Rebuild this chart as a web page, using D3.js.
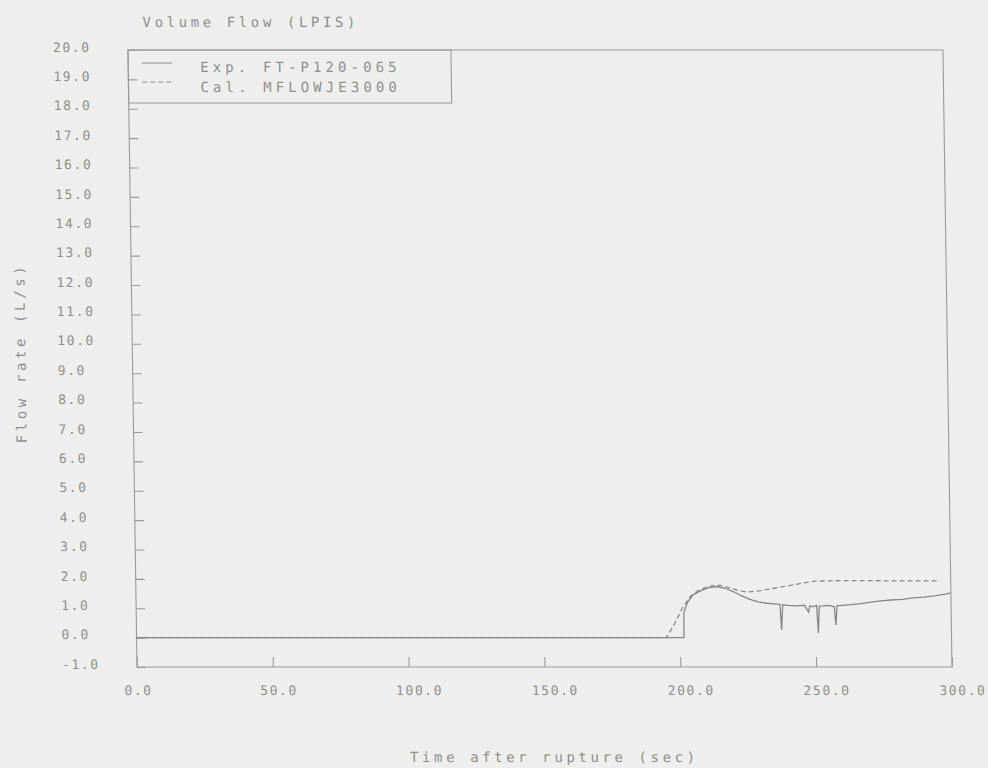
<!DOCTYPE html>
<html>
<head>
<meta charset="utf-8">
<script src="https://cdn.jsdelivr.net/npm/d3@7"></script>
<style>
  html, body { margin: 0; padding: 0; background: #eeeeec; }
  svg { display: block; }
  text { font-family: "DejaVu Sans Mono", monospace; fill: #8e8e8e; }
</style>
</head>
<body>
<svg id="chart" width="988" height="768"></svg>
<script>
// Labels
const chartTitle = "Volume Flow (LPIS)";
const xAxisTitle = "Time after rupture (sec)";
const yAxisTitle = "Flow rate (L/s)";
const seriesNames = ["Exp. FT-P120-065", "Cal. MFLOWJE3000"];

// Tick values
const xTicks = [0, 50, 100, 150, 200, 250, 300];
const yTicks = [-1, 0, 1, 2, 3, 4, 5, 6, 7, 8, 9, 10, 11, 12, 13, 14, 15, 16, 17, 18, 19, 20];

// Measured LPIS volume flow (L/s)
const expTime = [0, 201.5, 201.6, 203, 205, 208, 211, 214, 217, 220, 223, 226, 229, 232, 235,
  237, 237.5, 238, 240, 243, 246, 247.5, 248, 249, 250.5, 251, 251.5, 253, 255, 257, 257.5, 258,
  260, 263, 266, 270, 274, 278, 282, 286, 290, 294, 298, 300];
const expFlow = [0, 0, 0.85, 1.2, 1.45, 1.6, 1.7, 1.74, 1.68, 1.56, 1.42, 1.3, 1.22, 1.17, 1.15,
  1.13, 0.26, 1.12, 1.1, 1.08, 1.1, 0.87, 1.08, 1.05, 1.1, 0.16, 1.07, 1.08, 1.1, 1.05, 0.43, 1.08,
  1.1, 1.12, 1.15, 1.2, 1.25, 1.28, 1.3, 1.35, 1.38, 1.42, 1.48, 1.52];

// Calculated junction flow (L/s)
const calTime = [0, 195, 198, 201, 204, 207, 210, 213, 216, 219, 222, 225, 230, 235, 240, 245,
  250, 255, 260, 270, 280, 290, 296];
const calFlow = [0, 0, 0.45, 1.0, 1.4, 1.6, 1.72, 1.78, 1.77, 1.68, 1.6, 1.55, 1.6, 1.68, 1.76,
  1.85, 1.92, 1.93, 1.94, 1.94, 1.93, 1.93, 1.93];

const svg = d3.select("#chart");
const plotLeft = 137, plotRight = 952, plotTop = 50, plotBottom = 667;

const x = d3.scaleLinear().domain([0, 300]).range([plotLeft, plotRight]);
const y = d3.scaleLinear().domain([-1, 20]).range([plotBottom, plotTop]);

// The whole plot leans slightly, pivoting on the bottom axis
const g = svg.append("g")
  .attr("transform", `translate(0,${plotBottom}) skewX(0.84) translate(0,${-plotBottom})`);

// Title
g.append("text")
  .attr("x", 152).attr("y", 27)
  .style("font-size", "14px").style("letter-spacing", "3.6px")
  .text(chartTitle);

// Frame
g.append("rect")
  .attr("x", plotLeft).attr("y", plotTop)
  .attr("width", plotRight - plotLeft).attr("height", plotBottom - plotTop)
  .attr("fill", "none").attr("stroke", "#9a9a9a").attr("stroke-width", 1.1);

// Y axis ticks and labels
const yAxis = d3.axisRight(y).tickValues(yTicks).tickSize(9).tickFormat("");
const yAxisG = g.append("g").attr("transform", `translate(${plotLeft},0)`).call(yAxis);
yAxisG.select(".domain").remove();
yAxisG.selectAll("line").attr("stroke", "#9a9a9a").attr("stroke-width", 1.1);

g.append("g").selectAll("text").data(yTicks).join("text")
  .attr("x", 62).attr("y", d => y(d) - 3).attr("dy", "0.36em")
  .style("font-size", "13px").style("letter-spacing", "1.6px")
  .text(d => d3.format(".1f")(d).replace("\u2212", "-"));

// X axis ticks and labels
const xAxis = d3.axisTop(x).tickValues(xTicks).tickSize(10).tickFormat("");
const xAxisG = g.append("g").attr("transform", `translate(0,${plotBottom})`).call(xAxis);
xAxisG.select(".domain").remove();
xAxisG.selectAll("line").attr("stroke", "#9a9a9a").attr("stroke-width", 1.1);

g.append("g").selectAll("text").data(xTicks).join("text")
  .attr("x", d => x(d) - 13).attr("y", 695)
  .style("font-size", "13px").style("letter-spacing", "1.6px")
  .text(d => d3.format(".1f")(d));

// Axis titles
g.append("text")
  .attr("x", 553).attr("y", 762).attr("text-anchor", "middle")
  .style("font-size", "14px").style("letter-spacing", "3.6px")
  .text(xAxisTitle);

g.append("text")
  .attr("transform", "translate(30,353) rotate(-90)")
  .attr("text-anchor", "middle")
  .style("font-size", "14px").style("letter-spacing", "3.6px")
  .text(yAxisTitle);

// Series
const line = d3.line().x(d => x(d[0])).y(d => y(d[1]));
const expPts = expTime.map((t, i) => [t, expFlow[i]]);
const calPts = calTime.map((t, i) => [t, calFlow[i]]);

g.append("path").datum(calPts)
  .attr("d", line).attr("fill", "none")
  .attr("stroke", "#8a8a8a").attr("stroke-width", 1.3)
  .attr("stroke-dasharray", "5,3");

g.append("path").datum(expPts)
  .attr("d", line).attr("fill", "none")
  .attr("stroke", "#858585").attr("stroke-width", 1.3);

// Legend
const legend = g.append("g");
legend.append("rect")
  .attr("x", plotLeft).attr("y", plotTop).attr("width", 323).attr("height", 53)
  .attr("fill", "none").attr("stroke", "#9a9a9a").attr("stroke-width", 1.1);
const legendRows = [
  { name: seriesNames[0], dash: null, ly: 63, ty: 72 },
  { name: seriesNames[1], dash: "5,3", ly: 82, ty: 92 }
];
legendRows.forEach(r => {
  legend.append("line")
    .attr("x1", 151).attr("x2", 181).attr("y1", r.ly).attr("y2", r.ly)
    .attr("stroke", "#8a8a8a").attr("stroke-width", 1.2)
    .attr("stroke-dasharray", r.dash);
  legend.append("text")
    .attr("x", 209).attr("y", r.ty)
    .style("font-size", "14px").style("letter-spacing", "4.1px")
    .text(r.name);
});
</script>
</body>
</html>
